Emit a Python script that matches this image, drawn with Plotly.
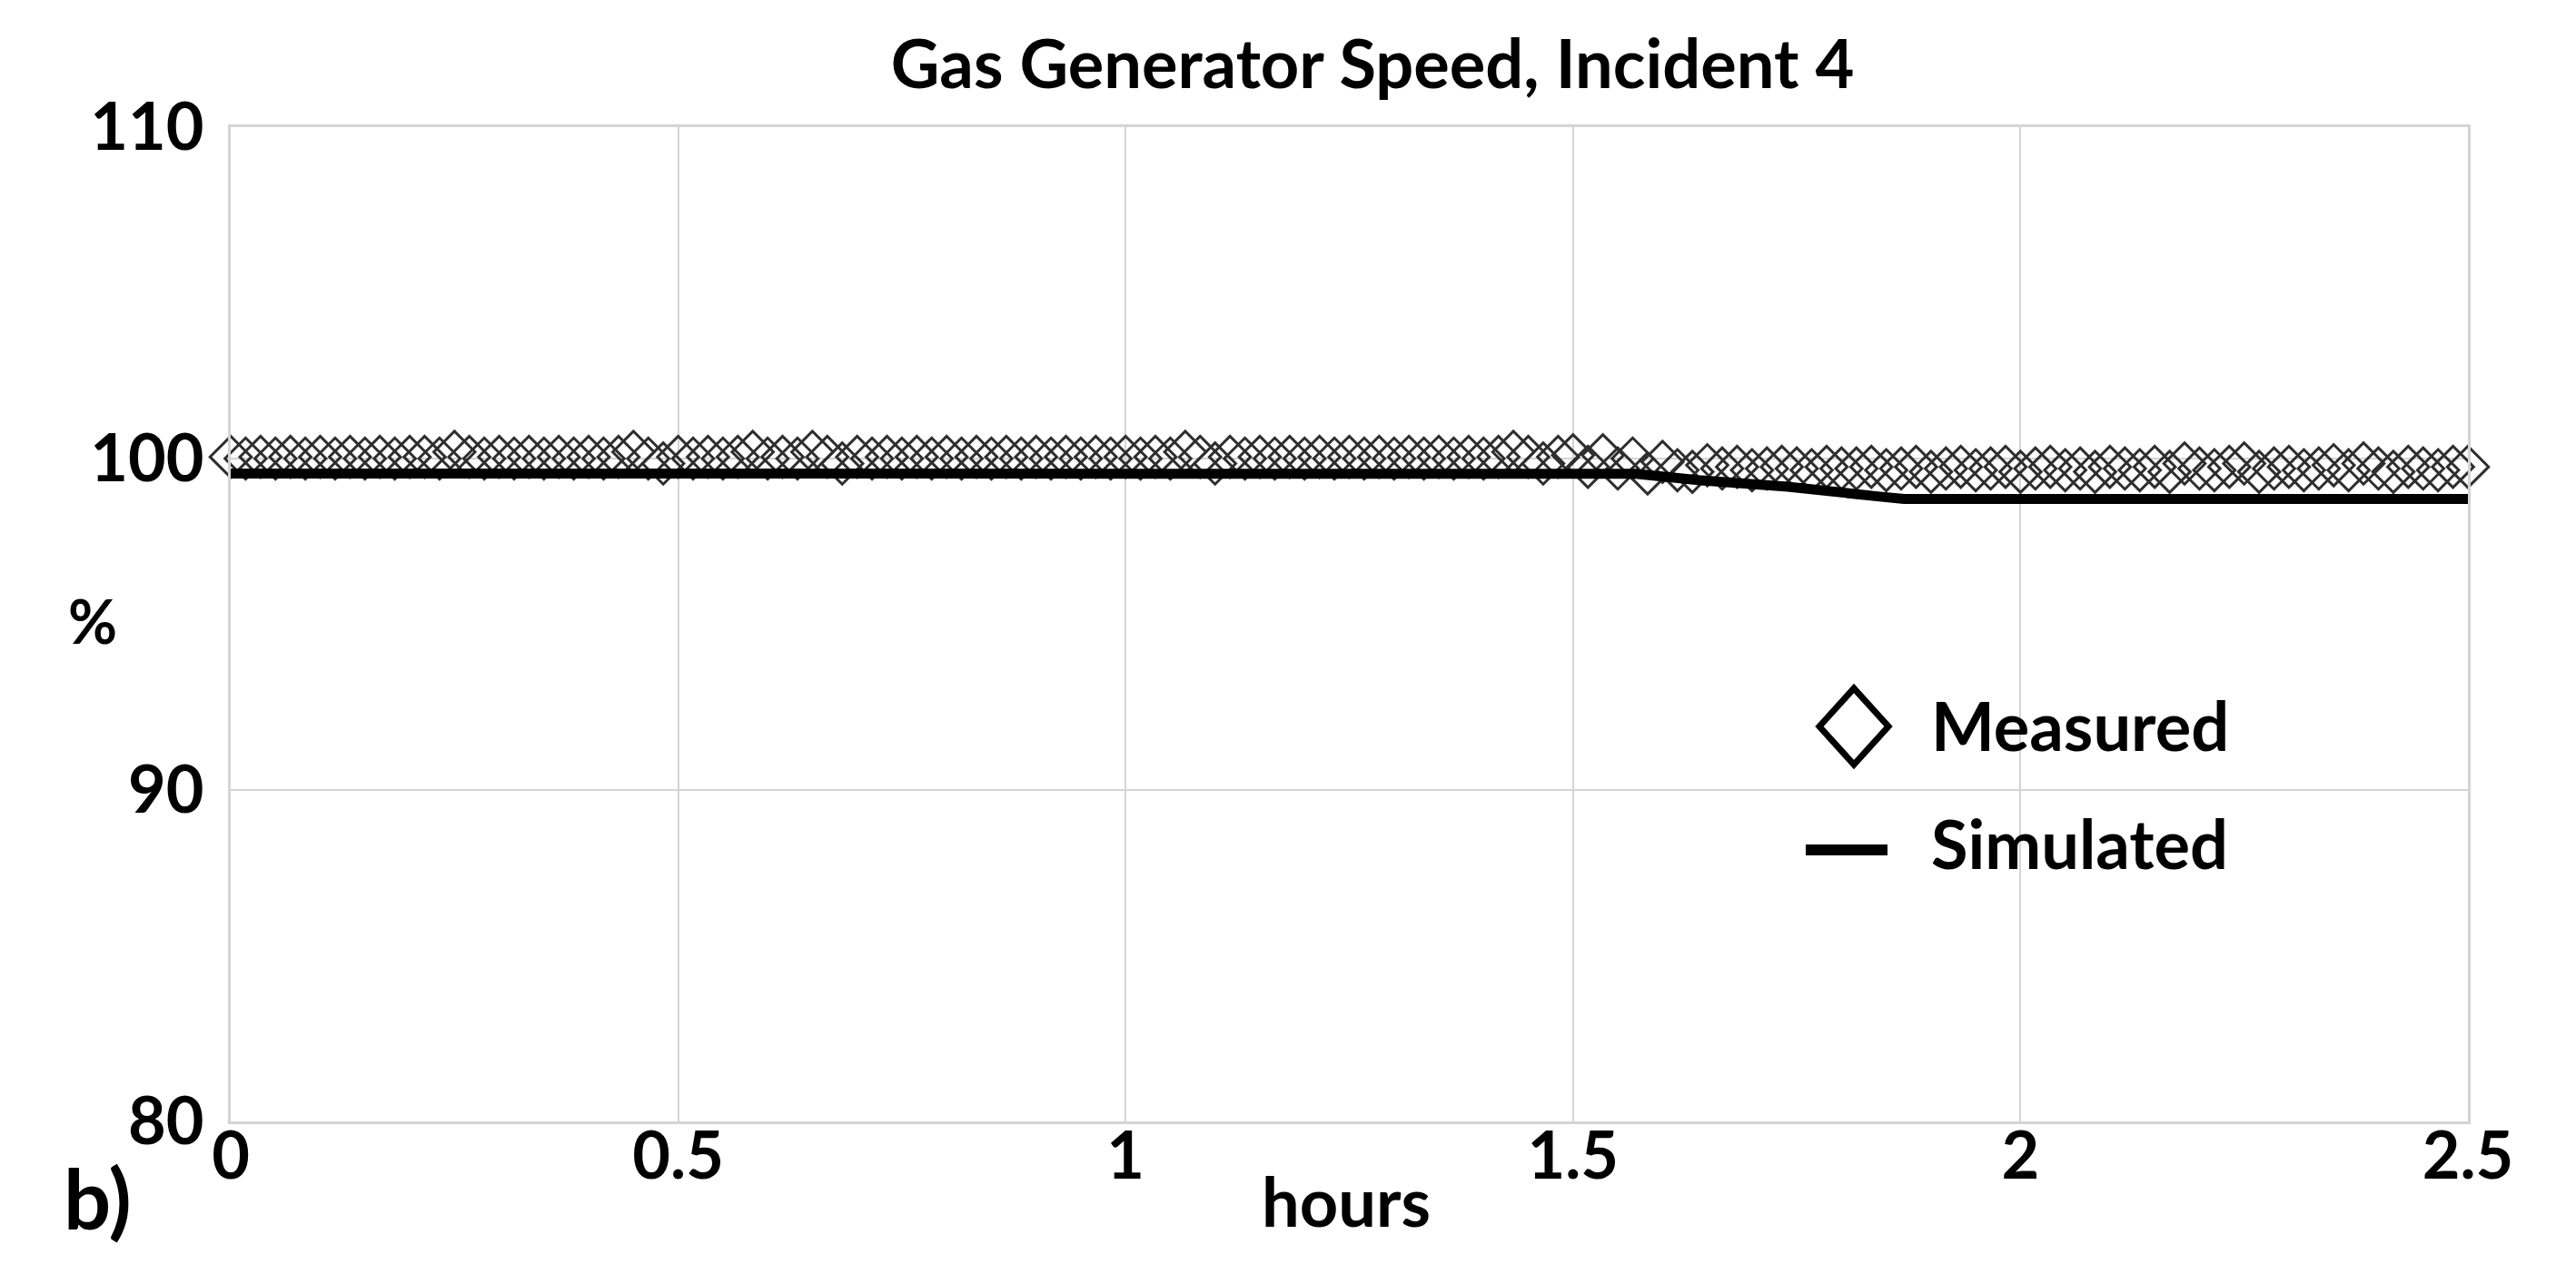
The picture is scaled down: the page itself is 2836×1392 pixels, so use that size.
import plotly.graph_objects as go

# ---------------- data ----------------
# Measured gas generator speed (%), one sample per minute from 0 to 2.5 h
sample_step_hours = 1 / 60
measured = [
    100.05, 100.0, 100.05, 100.0, 100.05, 100.0, 100.05, 100.0, 100.05, 100.0,
    100.05, 100.0, 100.05, 100.05, 100.0, 100.2, 100.05, 100.0, 100.05, 100.0,
    100.05, 100.0, 100.05, 100.0, 100.05, 100.0, 100.05, 100.2, 100.0, 99.85,
    100.05, 100.0, 100.05, 100.0, 100.05, 100.2, 100.0, 100.05, 100.0, 100.2,
    100.05, 99.85, 100.05, 100.0, 100.05, 100.0, 100.05, 100.0, 100.05, 100.0,
    100.05, 100.0, 100.05, 100.0, 100.05, 100.0, 100.05, 100.0, 100.05, 100.0,
    100.05, 100.0, 100.05, 100.0, 100.2, 100.05, 99.85, 100.05, 100.0, 100.05,
    100.0, 100.05, 100.0, 100.05, 100.0, 100.05, 100.0, 100.05, 100.0, 100.05,
    100.0, 100.05, 100.0, 100.05, 100.0, 100.05, 100.2, 100.05, 99.85, 100.05,
    100.1, 99.75, 100.1, 99.7, 100.0, 99.55, 99.9, 99.65, 99.6, 99.8,
    99.7, 99.75, 99.65, 99.7, 99.75, 99.7, 99.65, 99.75, 99.7, 99.7,
    99.75, 99.65, 99.7, 99.75, 99.6, 99.7, 99.75, 99.65, 99.7, 99.75,
    99.6, 99.7, 99.75, 99.65, 99.7, 99.6, 99.75, 99.7, 99.65, 99.75,
    99.6, 99.85, 99.7, 99.65, 99.75, 99.85, 99.6, 99.7, 99.75, 99.65,
    99.7, 99.8, 99.65, 99.85, 99.7, 99.6, 99.75, 99.7, 99.65, 99.75,
    99.75,
]

# Simulated gas generator speed (%)
sim_hours = [0.0, 1.52, 1.57, 1.64, 1.74, 1.84, 1.87, 2.5]
sim_values = [99.55, 99.55, 99.54, 99.35, 99.15, 98.86, 98.78, 98.78]

x_ticks = [0, 0.5, 1, 1.5, 2, 2.5]
x_tick_labels = ["0", "0.5", "1", "1.5", "2", "2.5"]
y_ticks = [80, 90, 100, 110]
y_tick_labels = ["80", "90", "100", "110"]

title_text = "Gas Generator Speed, Incident 4"
x_title = "hours"
y_title = "%"
panel_label = "b)"
series_names = ["Measured", "Simulated"]

# ---------------- style ----------------
FONT = "Lato, 'Open Sans', sans-serif"
GRID = "#d4d4d4"

fig = go.Figure()

fig.add_trace(go.Scatter(
    x0=0, dx=sample_step_hours, y=measured,
    mode="markers", name=series_names[0], showlegend=False,
    cliponaxis=False,
    marker=dict(symbol="diamond-open", size=35, color="#2e2e2e",
                line=dict(width=3, color="#2e2e2e")),
))
fig.add_trace(go.Scatter(
    x=sim_hours, y=sim_values,
    mode="lines", name=series_names[1], showlegend=False,
    line=dict(color="black", width=11),
))

W, H = 2836, 1392
ml, mr, mt, mb = 246, 127, 132, 165

axis_font = dict(family=FONT, size=72, color="black", weight="bold")

fig.update_layout(
    width=W, height=H,
    margin=dict(l=ml, r=mr, t=mt, b=mb, autoexpand=False),
    paper_bgcolor="white", plot_bgcolor="white",
    title=dict(text=title_text, x=0.530, xanchor="center",
               y=1 - 63 / H, yanchor="middle",
               font=dict(family=FONT, size=74, color="black", weight="bold")),
    xaxis=dict(range=[0, 2.5], tickvals=x_ticks, ticktext=x_tick_labels,
               showgrid=True, gridcolor=GRID, gridwidth=2,
               showline=True, linecolor=GRID, linewidth=3, mirror=True,
               zeroline=False, ticks="", tickfont=axis_font,
               ticklabelstandoff=-26),
    yaxis=dict(range=[80, 110], tickvals=y_ticks, ticktext=y_tick_labels,
               showgrid=True, gridcolor=GRID, gridwidth=2,
               showline=True, linecolor=GRID, linewidth=3, mirror=True,
               zeroline=False, ticks="", tickfont=axis_font,
               ticklabelstandoff=12),
    showlegend=False,
)

plot_w = W - ml - mr
plot_h = H - mt - mb


def px_to_paper_x(px):
    return (px - ml) / plot_w


def px_to_paper_y(py):
    return (H - mb - py) / plot_h


txt_font = dict(family=FONT, size=74, color="black", weight="bold")

annotations = [
    dict(text=x_title, x=px_to_paper_x(1474), y=px_to_paper_y(1314),
         xref="paper", yref="paper", showarrow=False,
         xanchor="center", yanchor="middle", font=txt_font),
    dict(text=y_title, x=px_to_paper_x(94), y=px_to_paper_y(675),
         xref="paper", yref="paper", showarrow=False,
         xanchor="center", yanchor="middle",
         font=dict(family=FONT, size=66, color="black", weight="bold")),
    dict(text=panel_label, x=px_to_paper_x(99), y=px_to_paper_y(1310),
         xref="paper", yref="paper", showarrow=False,
         xanchor="center", yanchor="middle",
         font=dict(family=FONT, size=92, color="black", weight="bold")),
    # legend labels
    dict(text=series_names[0], x=px_to_paper_x(2116), y=px_to_paper_y(790),
         xref="paper", yref="paper", showarrow=False,
         xanchor="left", yanchor="middle", font=txt_font),
    dict(text=series_names[1], x=px_to_paper_x(2116), y=px_to_paper_y(920),
         xref="paper", yref="paper", showarrow=False,
         xanchor="left", yanchor="middle", font=txt_font),
]

shapes = [
    # legend symbol: open diamond
    dict(type="path", xref="paper", yref="paper",
         xsizemode="pixel", ysizemode="pixel",
         xanchor=px_to_paper_x(2033), yanchor=px_to_paper_y(792),
         path="M -38 0 L 0 42 L 38 0 L 0 -42 Z",
         line=dict(color="black", width=7), fillcolor="rgba(0,0,0,0)",
         layer="above"),
    # legend symbol: line
    dict(type="line", xref="paper", yref="paper",
         xsizemode="pixel", xanchor=px_to_paper_x(2025),
         x0=-45, x1=45, y0=px_to_paper_y(928), y1=px_to_paper_y(928),
         line=dict(color="black", width=12), layer="above"),
]

fig.update_layout(annotations=annotations, shapes=shapes)

fig.write_html("out.html")
